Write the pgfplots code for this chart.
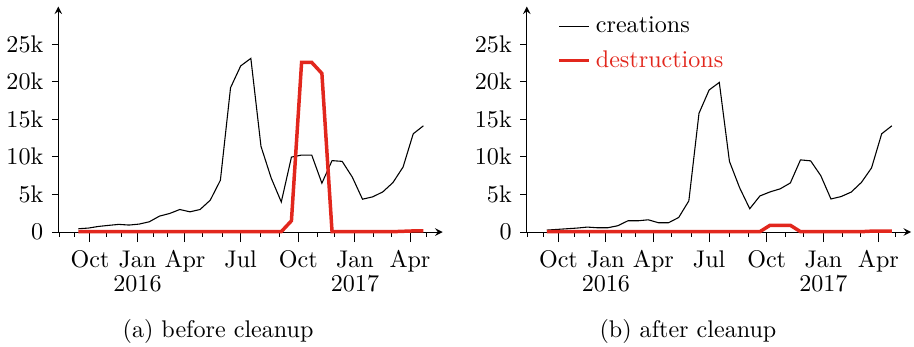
\documentclass[border=0pt]{standalone}
\usepackage{pgfplots}
\pgfplotsset{compat=1.18}
\definecolor{myred}{RGB}{226,39,29}
\pgfplotsset{myaxis/.style={
  scale only axis, width=159.5pt, height=93.6pt,
  xmin=-1.97, xmax=35.9, ymin=0, ymax=30000,
  axis lines=left, clip=false,
  axis line style={line width=0.4pt},
  tick align=outside,
  tick style={black, line width=0.4pt},
  xtick={1.15,5.83,10.51,16.0,21.67,27.26,32.68},
  xticklabels={Oct,{Jan\\[-1.9pt]2016},Apr,Jul,Oct,{Jan\\[-1.9pt]2017},Apr},
  xticklabel style={align=center},
  minor xtick={-1.87,-0.33,2.73,4.21,7.39,8.77,12.27,14.23,17.97,19.87,23.55,25.29,29.13,30.88,34.33},
  major tick length=4.15pt, minor tick length=2pt,
  ytick=\empty,
  extra y ticks={0,5000,10000,15000,20000,25000},
  extra y tick labels={0,5k,10k,15k,20k,25k},
  extra y tick style={major tick length=2.7pt},
  scaled y ticks=false,
  no marks,
}}
\begin{document}
\begin{tikzpicture}
\useasboundingbox (-24.2pt,-47.7pt) rectangle (355.1pt,96.3pt);
\begin{axis}[myaxis, at={(0pt,0pt)}, anchor=south west]
\addplot[black, line width=0.45pt] coordinates {
(0,440) (1,530) (2,750) (3,890) (4,1020) (5,930) (6,1060) (7,1370) (8,2120) (9,2470)
(10,3000) (11,2690) (12,3000) (13,4240) (14,6890) (15,19200) (16,22100) (17,23100) (18,11400) (19,7200)
(20,4000) (21,9970) (22,10240) (23,10240) (24,6500) (25,9500) (26,9400) (27,7300) (28,4370) (29,4680)
(30,5340) (31,6580) (32,8650) (33,13070) (34,14130)};
\addplot[myred, line width=1.45pt] coordinates {
(0,50) (1,50) (2,50) (3,50) (4,50) (5,50) (6,50) (7,50) (8,50) (9,50)
(10,50) (11,50) (12,50) (13,50) (14,50) (15,50) (16,50) (17,50) (18,50) (19,50)
(20,50) (21,1500) (22,22560) (23,22560) (24,21100) (25,50) (26,50) (27,50) (28,50) (29,50)
(30,50) (31,50) (32,100) (33,150) (34,150)};
\end{axis}
\begin{axis}[myaxis, at={(194.4pt,0pt)}, anchor=south west,
  legend style={draw=none, fill=none, at={(0.06,1.0)}, anchor=north west, row sep=2pt},
  legend cell align=left,
  legend image code/.code={\draw[#1] (0pt,0pt) -- (12.45pt,0pt);}]
\addplot[black, line width=0.45pt] coordinates {
(0,260) (1,350) (2,440) (3,530) (4,660) (5,570) (6,570) (7,840) (8,1500) (9,1500)
(10,1630) (11,1240) (12,1240) (13,1940) (14,4150) (15,15800) (16,18900) (17,19900) (18,9400) (19,5900)
(20,3100) (21,4800) (22,5340) (23,5750) (24,6530) (25,9600) (26,9470) (27,7500) (28,4400) (29,4720)
(30,5320) (31,6600) (32,8530) (33,13070) (34,14130)};
\addlegendentry{creations}
\addplot[myred, line width=1.45pt] coordinates {
(0,50) (1,50) (2,50) (3,50) (4,50) (5,50) (6,50) (7,50) (8,50) (9,50)
(10,50) (11,50) (12,50) (13,50) (14,50) (15,50) (16,50) (17,50) (18,50) (19,50)
(20,50) (21,50) (22,900) (23,900) (24,900) (25,50) (26,50) (27,50) (28,50) (29,50)
(30,50) (31,50) (32,120) (33,120) (34,120)};
\addlegendentry{\textcolor{myred}{destructions}}
\end{axis}
\node[anchor=base] at (66.3pt,-43.6pt) {(a) before cleanup};
\node[anchor=base] at (261.3pt,-43.6pt) {(b) after cleanup};
\end{tikzpicture}
\end{document}
